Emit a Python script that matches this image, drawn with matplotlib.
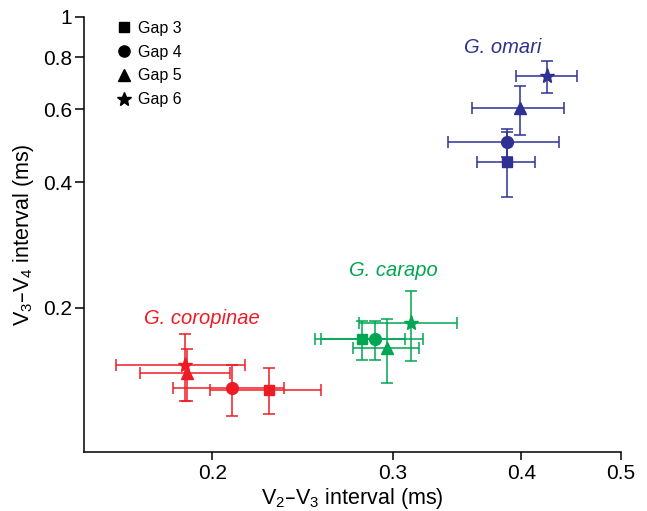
import matplotlib
matplotlib.use("Agg")
import matplotlib.pyplot as plt
from matplotlib.lines import Line2D
from matplotlib.ticker import FixedLocator, FixedFormatter, NullLocator

plt.rcParams['font.family'] = ['Liberation Sans', 'DejaVu Sans']
plt.rcParams['mathtext.default'] = 'regular'

# gaps, in the order of the markers
gaps = ["Gap 3", "Gap 4", "Gap 5", "Gap 6"]
markers = ["s", "o", "^", "*"]

species = ["G. coropinae", "G. carapo", "G. omari"]
colors = ["#ED1C24", "#00A651", "#2E3192"]

# V2-V3 interval (ms), mean and SD, gap 3..6
coropinae_x = [0.227, 0.209, 0.189, 0.188]
coropinae_xsd = [0.028, 0.026, 0.019, 0.027]
carapo_x = [0.280, 0.288, 0.296, 0.312]
carapo_xsd = [0.028, 0.033, 0.022, 0.034]
omari_x = [0.387, 0.387, 0.399, 0.424]
omari_xsd = [0.025, 0.048, 0.041, 0.029]

# V3-V4 interval (ms), mean and SD, gap 3..6
coropinae_y = [0.127, 0.128, 0.139, 0.146]
coropinae_ysd = [0.016, 0.018, 0.020, 0.027]
carapo_y = [0.168, 0.168, 0.160, 0.184]
carapo_ysd = [0.018, 0.018, 0.028, 0.035]
omari_y = [0.448, 0.499, 0.602, 0.720]
omari_ysd = [0.080, 0.038, 0.081, 0.063]

xticks = [0.2, 0.3, 0.4, 0.5]
xticklabels = ["0.2", "0.3", "0.4", "0.5"]
yticks = [0.2, 0.4, 0.6, 0.8, 1.0]
yticklabels = ["0.2", "0.4", "0.6", "0.8", "1"]

series = [
    (coropinae_x, coropinae_xsd, coropinae_y, coropinae_ysd),
    (carapo_x, carapo_xsd, carapo_y, carapo_ysd),
    (omari_x, omari_xsd, omari_y, omari_ysd),
]
msizes = {"s": 7.5, "o": 8.5, "^": 9, "*": 11}

fig = plt.figure(figsize=(6.47, 5.11), dpi=100)
ax = fig.add_axes([0.1298, 0.1155, 0.83, 0.8518])

for (xs, xsd, ys, ysd), col in zip(series, colors):
    for i in range(len(gaps)):
        ax.errorbar(xs[i], ys[i], xerr=xsd[i], yerr=ysd[i], fmt=markers[i],
                    color=col, ms=msizes[markers[i]], mec=col,
                    elinewidth=1.1, capsize=4, capthick=1.1)

ax.set_xscale("log")
ax.set_yscale("log")
ax.set_xlim(0.15, 0.5)
ax.set_ylim(0.09, 1.0)

ax.xaxis.set_major_locator(FixedLocator(xticks))
ax.xaxis.set_major_formatter(FixedFormatter(xticklabels))
ax.xaxis.set_minor_locator(NullLocator())
ax.yaxis.set_major_locator(FixedLocator(yticks))
ax.yaxis.set_major_formatter(FixedFormatter(yticklabels))
ax.yaxis.set_minor_locator(NullLocator())

ax.spines["top"].set_visible(False)
ax.spines["right"].set_visible(False)
for s in ["left", "bottom"]:
    ax.spines[s].set_linewidth(1.1)
ax.tick_params(axis="x", direction="out", length=5.5, width=1.1, labelsize=15, pad=3.5)
ax.tick_params(axis="y", direction="out", length=6.5, width=1.1, labelsize=15, pad=2)

ax.set_xlabel("V$_2$–V$_3$ interval (ms)", fontsize=15.5, labelpad=2)
ax.set_ylabel("V$_3$–V$_4$ interval (ms)", fontsize=15.5, labelpad=5)

# species names
ax.text(0.1956, 0.1885, "G. coropinae", color=colors[0], fontsize=14.5,
        style="italic", ha="center", va="center")
ax.text(0.300, 0.2459, "G. carapo", color=colors[1], fontsize=14.5,
        style="italic", ha="center", va="center")
ax.text(0.3837, 0.845, "G. omari", color=colors[2], fontsize=14.5,
        style="italic", ha="center", va="center")

handles = [Line2D([], [], ls="none", marker=m, color="black",
                  ms=msizes[m] * 0.95) for m in markers]
ax.legend(handles, gaps, loc="upper left", bbox_to_anchor=(0.047, 1.005),
          frameon=False, fontsize=11.5, handlelength=1.0, handletextpad=0.4,
          labelspacing=0.55, borderaxespad=0.0)

fig.savefig("out.png", dpi=100)
